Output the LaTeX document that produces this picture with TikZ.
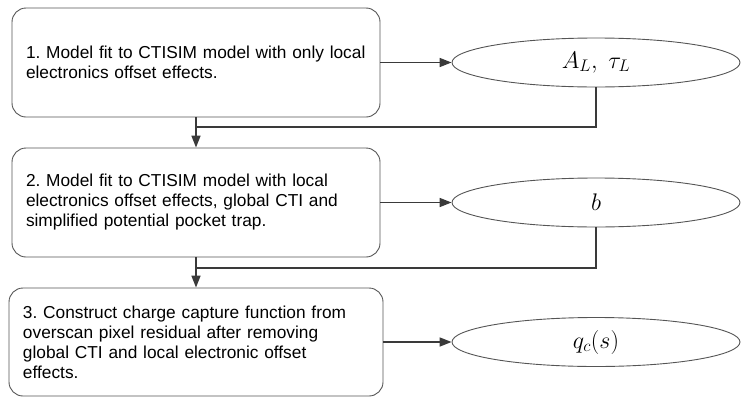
\RequirePackage{fix-cm}
\documentclass[tikz,border=0pt]{standalone}
\usepackage[no-math]{fontspec}
\setmainfont{Liberation Sans}
\usetikzlibrary{arrows.meta,shapes.geometric}

\definecolor{boxgray}{HTML}{555555}
\definecolor{linegray}{HTML}{3A3A3A}

% text of the step boxes: no hyphenation, single space after periods
\newcommand\stepfont{\fontsize{17.3}{20}\selectfont\frenchspacing\hyphenpenalty=10000\relax}

\begin{document}
\begin{tikzpicture}[x=1pt,y=-1pt,
  stepbox/.style={rectangle, draw=boxgray, line width=0.9pt, rounded corners=14pt,
    minimum height=109pt, inner xsep=14pt, align=left, font=\stepfont},
  result/.style={ellipse, draw=boxgray, line width=0.9pt, minimum width=288pt,
    minimum height=49pt, inner sep=0pt, font=\fontsize{24}{28}\selectfont},
  link/.style={draw=linegray, line width=1.6pt},
  flow/.style={link, -{Triangle[length=12pt,width=9pt]}}]

\useasboundingbox (0,0) rectangle (741,399);

% processing steps
\node[stepbox, text width=340pt] (b1) at (196,62.5)
  {1. Model fit to CTISIM model with only local\\electronics offset effects.};
\node[stepbox, text width=340pt] (b2) at (196,202.5)
  {2. Model fit to CTISIM model with local\\electronics offset effects, global CTI and\\simplified potential pocket trap.};
\node[stepbox, text width=346pt, minimum height=108pt] (b3) at (196,342)
  {3. Construct charge capture function from\\overscan pixel residual after removing\\global CTI and local electronic offset\\effects.};

% fitted quantities
\node[result] (e1) at (596,62.5) {$A_L,\ \tau_L$};
\node[result] (e2) at (596,202.5) {$b$};
\node[result] (e3) at (596,342) {$q_c(s)$};

% step outputs
\draw[flow] (b1) -- (e1);
\draw[flow] (b2) -- (e2);
\draw[flow] (b3) -- (e3);

% step-to-step flow, with results fed forward
\coordinate (j1) at (196,127);
\coordinate (j2) at (196,268);
\draw[flow] (b1) -- (b2);
\draw[flow] (b2) -- (b3);
\draw[link] (e1.south) |- (j1);
\draw[link] (e2.south) |- (j2);
\end{tikzpicture}
\end{document}
